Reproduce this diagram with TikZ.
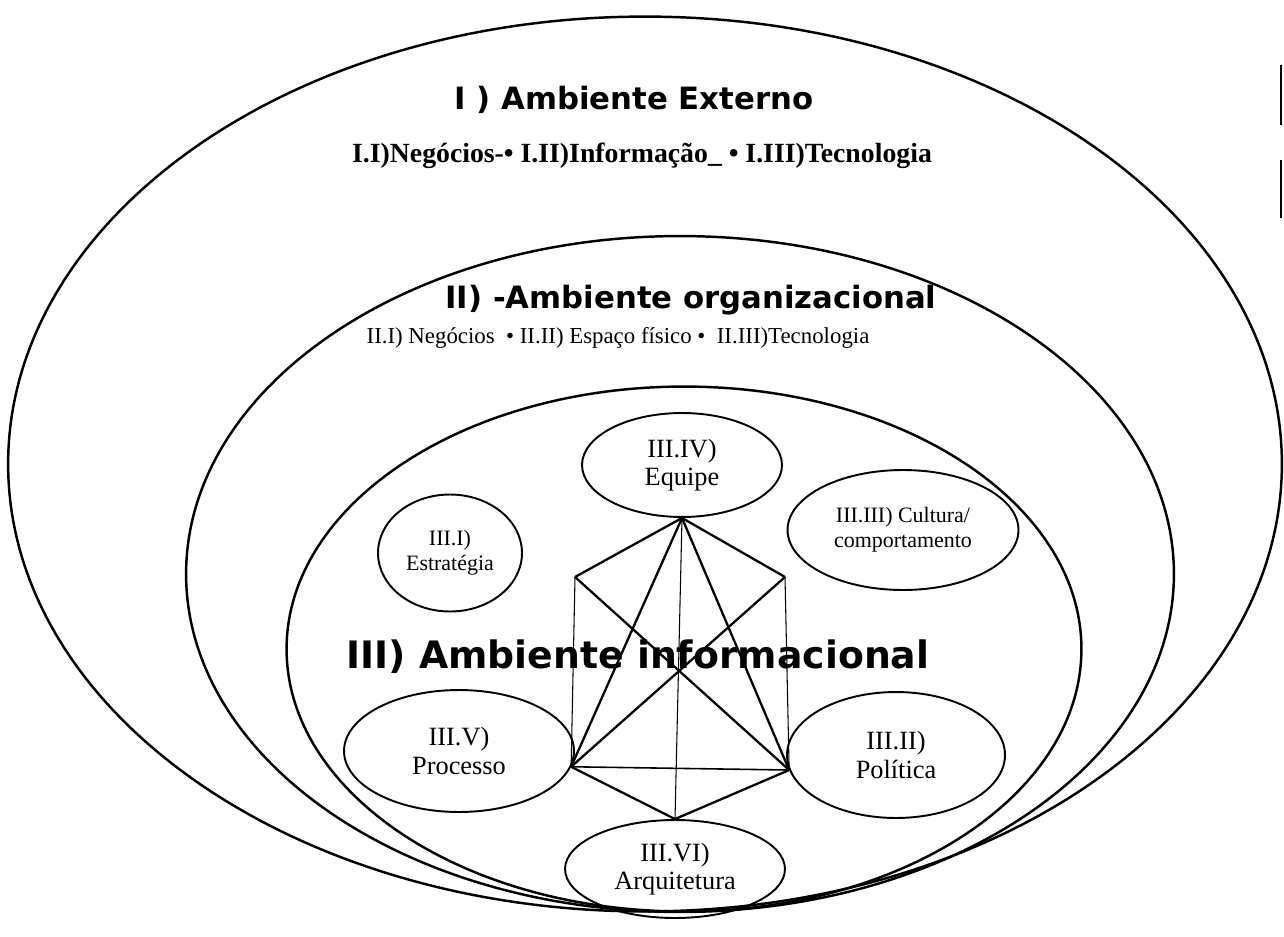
\documentclass[tikz,border=0pt]{standalone}
\usepackage{fontspec}
\setmainfont{Liberation Serif}
\newfontfamily\hand{DejaVu Sans}
\usepackage{tikz}
\usetikzlibrary{shapes.geometric}
\tikzset{
  env/.style  ={ellipse, draw, line width=1.4pt, inner sep=0pt},
  part/.style ={ellipse, draw, line width=1.1pt, inner sep=0pt, align=center,
                font=\fontsize{15}{16}\selectfont},
  ttl/.style  ={font=\hand\bfseries\fontsize{17.5}{19}\selectfont},
  lst/.style  ={font=\fontsize{13}{14}\selectfont},
  lnk/.style  ={draw, line width=1.3pt},
  lnkm/.style ={draw, line width=0.9pt},
  lnkt/.style ={draw, line width=0.6pt},
}

\begin{document}
\begin{tikzpicture}[x=0.02cm, y=-0.02cm]
\useasboundingbox (0,0) rectangle (1284,936);
% nested environments
\node[env, minimum width=25.48cm, minimum height=17.9cm] (ext) at (645,464) {};
\node[env, minimum width=19.76cm, minimum height=13.52cm] (org) at (680,574) {};
\node[env, minimum width=15.9cm, minimum height=10.5cm] (inf) at (684,649) {};
% titles
\node[ttl] (extT) at (634,100) {I ) Ambiente Externo};
\node[font=\bfseries\fontsize{15.8}{17}\selectfont] (extL) at (642,156) {I.I)Negócios-• I.II)Informação\_ • I.III)Tecnologia};
\node[ttl] (orgT) at (691,300) {II) -Ambiente organizacional};
\node[lst] (orgL) at (618,338) {II.I) Negócios\ \ • II.II) Espaço físico • \ II.III)Tecnologia};
\node[ttl, font=\hand\bfseries\fontsize{21.5}{24}\selectfont] (infT) at (638,657) {III) Ambiente informacional};
% components
\node[part, minimum width=4cm, minimum height=2.08cm] (equipe) at (682,465) {III.IV)\\Equipe};
\node[part, minimum width=2.88cm, minimum height=2.34cm, font=\fontsize{12.5}{14}\selectfont] (estrat) at (450,553) {III.I)\\Estratégia};
\node[part, minimum width=4.62cm, minimum height=2.4cm, font=\fontsize{12.5}{14}\selectfont] (cultura) at (903,530) {III.III) Cultura/\\comportamento};
\node[part, minimum width=4.6cm, minimum height=2.44cm] (proc) at (459,751) {III.V)\\Processo};
\node[part, minimum width=4.36cm, minimum height=2.52cm] (polit) at (896,755) {III.II)\\Política};
\node[part, minimum width=4.4cm, minimum height=1.96cm] (arq) at (675,869) {III.VI)\\Arquitetura};
\coordinate (hl) at (575,577);
\coordinate (hr) at (785,577);
% links
\draw[lnk] (hl) -- (equipe.south) -- (hr);
\draw[lnk] (hl) -- (polit.188);
\draw[lnk] (hr) -- (proc.-8);
\draw[lnk] (proc.-8) -- (equipe.south) -- (polit.188);
\draw[lnk] (proc.-8) -- (arq.north) -- (polit.188);
\draw[lnkm] (proc.-8) -- (polit.188);
\draw[lnkt] (hl) -- (proc.-8);
\draw[lnkt] (hr) -- (polit.188);
\draw[lnkt] (equipe.south) -- (arq.north);
% page edge marks
\draw[line width=1.2pt] (1281,65) -- (1281,125);
\draw[line width=1.2pt] (1281,160) -- (1281,218);
\end{tikzpicture}
\end{document}
